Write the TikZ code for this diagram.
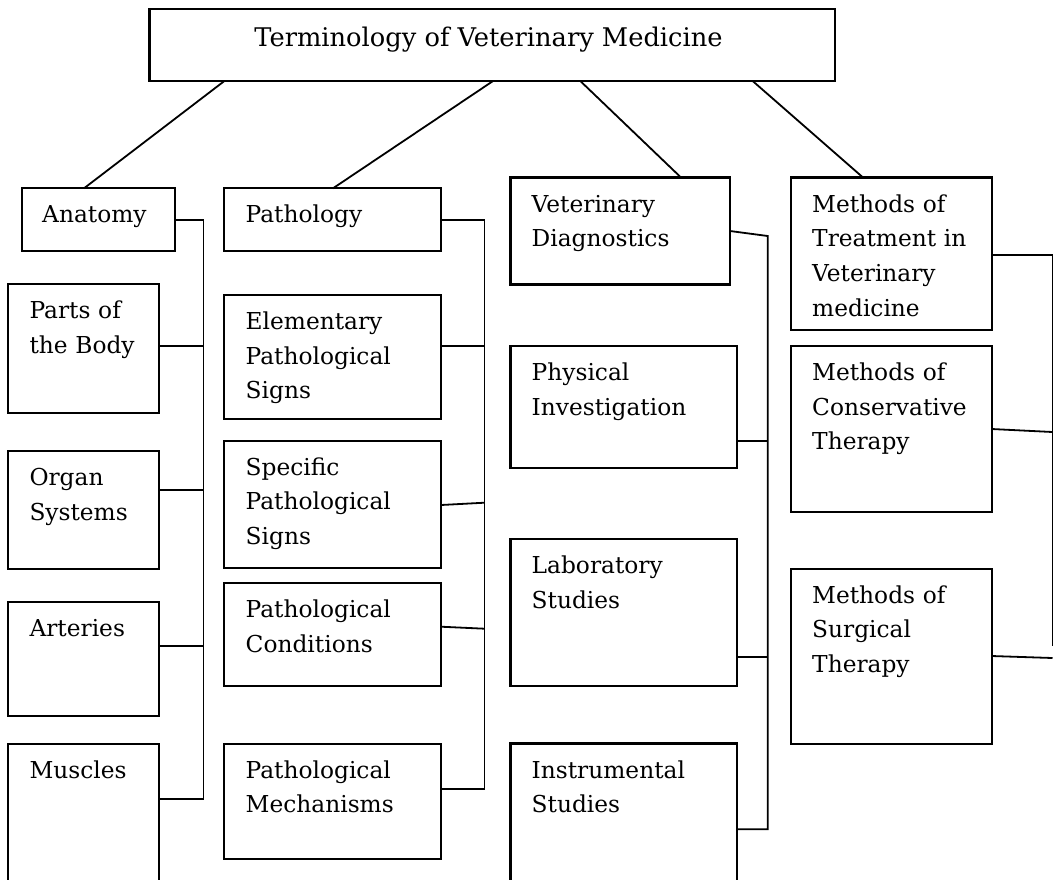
\documentclass[tikz,border=0pt]{standalone}
\usepackage{fontspec}
\setmainfont{DejaVu Serif}
\usetikzlibrary{calc}
\begin{document}
\begin{tikzpicture}[x=1pt,y=-1pt,
  box/.style={draw, line width=2.2pt, inner sep=0pt, outer sep=0pt, anchor=north west},
  lbl/.style={anchor=base west, inner sep=0pt, text width=230pt, align=left, font=\fontsize{23.3}{34.7}\selectfont},
  con/.style={line width=1.8pt}]
\useasboundingbox (0,0) rectangle (1054,879);
\fill[white] (0,0) rectangle (1054,879);
\clip (0,0) rectangle (1054,879);

% title
\node[box,minimum width=685.8pt,minimum height=72pt] (title) at (149.5,9.3) {};
\node[anchor=base,inner sep=0pt,font=\fontsize{25.7}{30}\selectfont] (ttitle) at (488.5,46.7) {Terminology of Veterinary Medicine};

% column 1
\node[box,minimum width=153.2pt,minimum height=63pt] (anat) at (21.6,188.3) {};
\node[box,minimum width=151.4pt,minimum height=128.4pt] (parts) at (7.8,284.3) {};
\node[box,minimum width=151.4pt,minimum height=117.7pt] (organ) at (7.8,451) {};
\node[box,minimum width=151.4pt,minimum height=113.7pt] (arter) at (7.8,602.3) {};
\node[box,minimum width=151.4pt,minimum height=160pt] (musc) at (7.8,743.7) {};

% column 2
\node[box,minimum width=217pt,minimum height=63pt] (path) at (224,188.3) {};
\node[box,minimum width=217pt,minimum height=124.3pt] (elem) at (224,295) {};
\node[box,minimum width=217pt,minimum height=127.6pt] (spec) at (224,440.7) {};
\node[box,minimum width=217pt,minimum height=103pt] (cond) at (224,583) {};
\node[box,minimum width=217pt,minimum height=115.6pt] (mech) at (224,743.7) {};

% column 3
\node[box,minimum width=219.5pt,minimum height=107pt] (vdiag) at (510.5,177.5) {};
\node[box,minimum width=226.2pt,minimum height=122.3pt] (phys) at (510.5,346) {};
\node[box,minimum width=226.2pt,minimum height=147pt] (lab) at (510.5,539) {};
\node[box,minimum width=226.2pt,minimum height=160pt] (instr) at (510.5,743.5) {};

% column 4
\node[box,minimum width=200.7pt,minimum height=152.5pt] (mtreat) at (791,177.5) {};
\node[box,minimum width=200.7pt,minimum height=166.3pt] (cons) at (791,346) {};
\node[box,minimum width=200.7pt,minimum height=175pt] (surg) at (791,568.7) {};

% labels
\node[lbl] (tanat) at ($(anat.north west)+(20.4,34.5)$) {Anatomy};
\node[lbl] (tparts) at ($(parts.north west)+(21.5,34.5)$) {Parts of\\the Body};
\node[lbl] (torgan) at ($(organ.north west)+(21.5,34.5)$) {Organ\\Systems};
\node[lbl] (tarter) at ($(arter.north west)+(21.5,34.5)$) {Arteries};
\node[lbl] (tmusc) at ($(musc.north west)+(21.5,34.5)$) {Muscles};
\node[lbl] (tpath) at ($(path.north west)+(21.5,34.5)$) {Pathology};
\node[lbl] (telem) at ($(elem.north west)+(21.5,34.5)$) {Elementary\\Pathological\\Signs};
\node[lbl] (tspec) at ($(spec.north west)+(21.5,34.5)$) {Specific\\Pathological\\Signs};
\node[lbl] (tcond) at ($(cond.north west)+(21.5,34.5)$) {Pathological\\Conditions};
\node[lbl] (tmech) at ($(mech.north west)+(21.5,34.5)$) {Pathological\\Mechanisms};
\node[lbl] (tvdiag) at ($(vdiag.north west)+(21,34.5)$) {Veterinary\\Diagnostics};
\node[lbl] (tphys) at ($(phys.north west)+(21,34.5)$) {Physical\\Investigation};
\node[lbl] (tlab) at ($(lab.north west)+(21,34.5)$) {Laboratory\\Studies};
\node[lbl] (tinstr) at ($(instr.north west)+(21,34.5)$) {Instrumental\\Studies};
\node[lbl] (tmtreat) at ($(mtreat.north west)+(21,34.5)$) {Methods of\\Treatment in\\Veterinary\\medicine};
\node[lbl] (tcons) at ($(cons.north west)+(21,34.5)$) {Methods of\\Conservative\\Therapy};
\node[lbl] (tsurg) at ($(surg.north west)+(21,34.5)$) {Methods of\\Surgical\\Therapy};

% title connectors
\draw[con] ($(title.south west)+(74.5,0)$) -- ($(anat.north west)+(62.4,0)$);
\draw[con] ($(title.south west)+(343.1,0)$) -- ($(path.north west)+(109,0)$);
\draw[con] ($(title.south west)+(431.1,0)$) -- ($(vdiag.north west)+(170.5,0)$);
\draw[con] ($(title.south west)+(603.5,0)$) -- ($(mtreat.north west)+(72,0)$);

% anatomy bus
\coordinate (abus) at (203.5,799.3);
\draw[con] (anat.east) -| (abus) -- ($(musc.north east)+(0,55.6)$);
\coordinate (pa) at ($(parts.north east)+(0,61.4)$);
\draw[con] (pa) -- (pa -| abus);
\coordinate (og) at ($(organ.north east)+(0,39)$);
\draw[con] (og) -- (og -| abus);
\coordinate (ar) at ($(arter.north east)+(0,43.7)$);
\draw[con] (ar) -- (ar -| abus);

% pathology bus
\coordinate (pbus) at (484.5,789.3);
\draw[con] (path.east) -| (pbus) -- ($(mech.north east)+(0,45.6)$);
\coordinate (el) at ($(elem.north east)+(0,50.7)$);
\draw[con] (el) -- (el -| pbus);
\coordinate (spb) at (484.5,502.7);
\draw[con] ($(spec.north east)+(0,64.3)$) -- (spb);
\coordinate (cdb) at (484.5,628.7);
\draw[con] ($(cond.north east)+(0,43.7)$) -- (cdb);

% diagnostics bus
\coordinate (vtop) at (767.7,236);
\coordinate (vbot) at (767.7,829.3);
\draw[con] ($(vdiag.north east)+(0,53.5)$) -- (vtop) -- (vbot) -- ($(instr.north east)+(0,85.8)$);
\coordinate (ph) at ($(phys.north east)+(0,94.7)$);
\draw[con] (ph) -- (ph -| vbot);
\coordinate (lb) at ($(lab.north east)+(0,117.7)$);
\draw[con] (lb) -- (lb -| vbot);

% treatment bus
\coordinate (mtop) at (1052.5,255);
\coordinate (mbot) at (1052.5,646);
\draw[con] ($(mtreat.north east)+(0,77.5)$) -- (mtop) -- (mbot);
\coordinate (csb) at (1052.5,432);
\draw[con] ($(cons.north east)+(0,83)$) -- (csb);
\coordinate (sgb) at (1052.5,658);
\draw[con] ($(surg.north east)+(0,87.3)$) -- (sgb);
\end{tikzpicture}
\end{document}
